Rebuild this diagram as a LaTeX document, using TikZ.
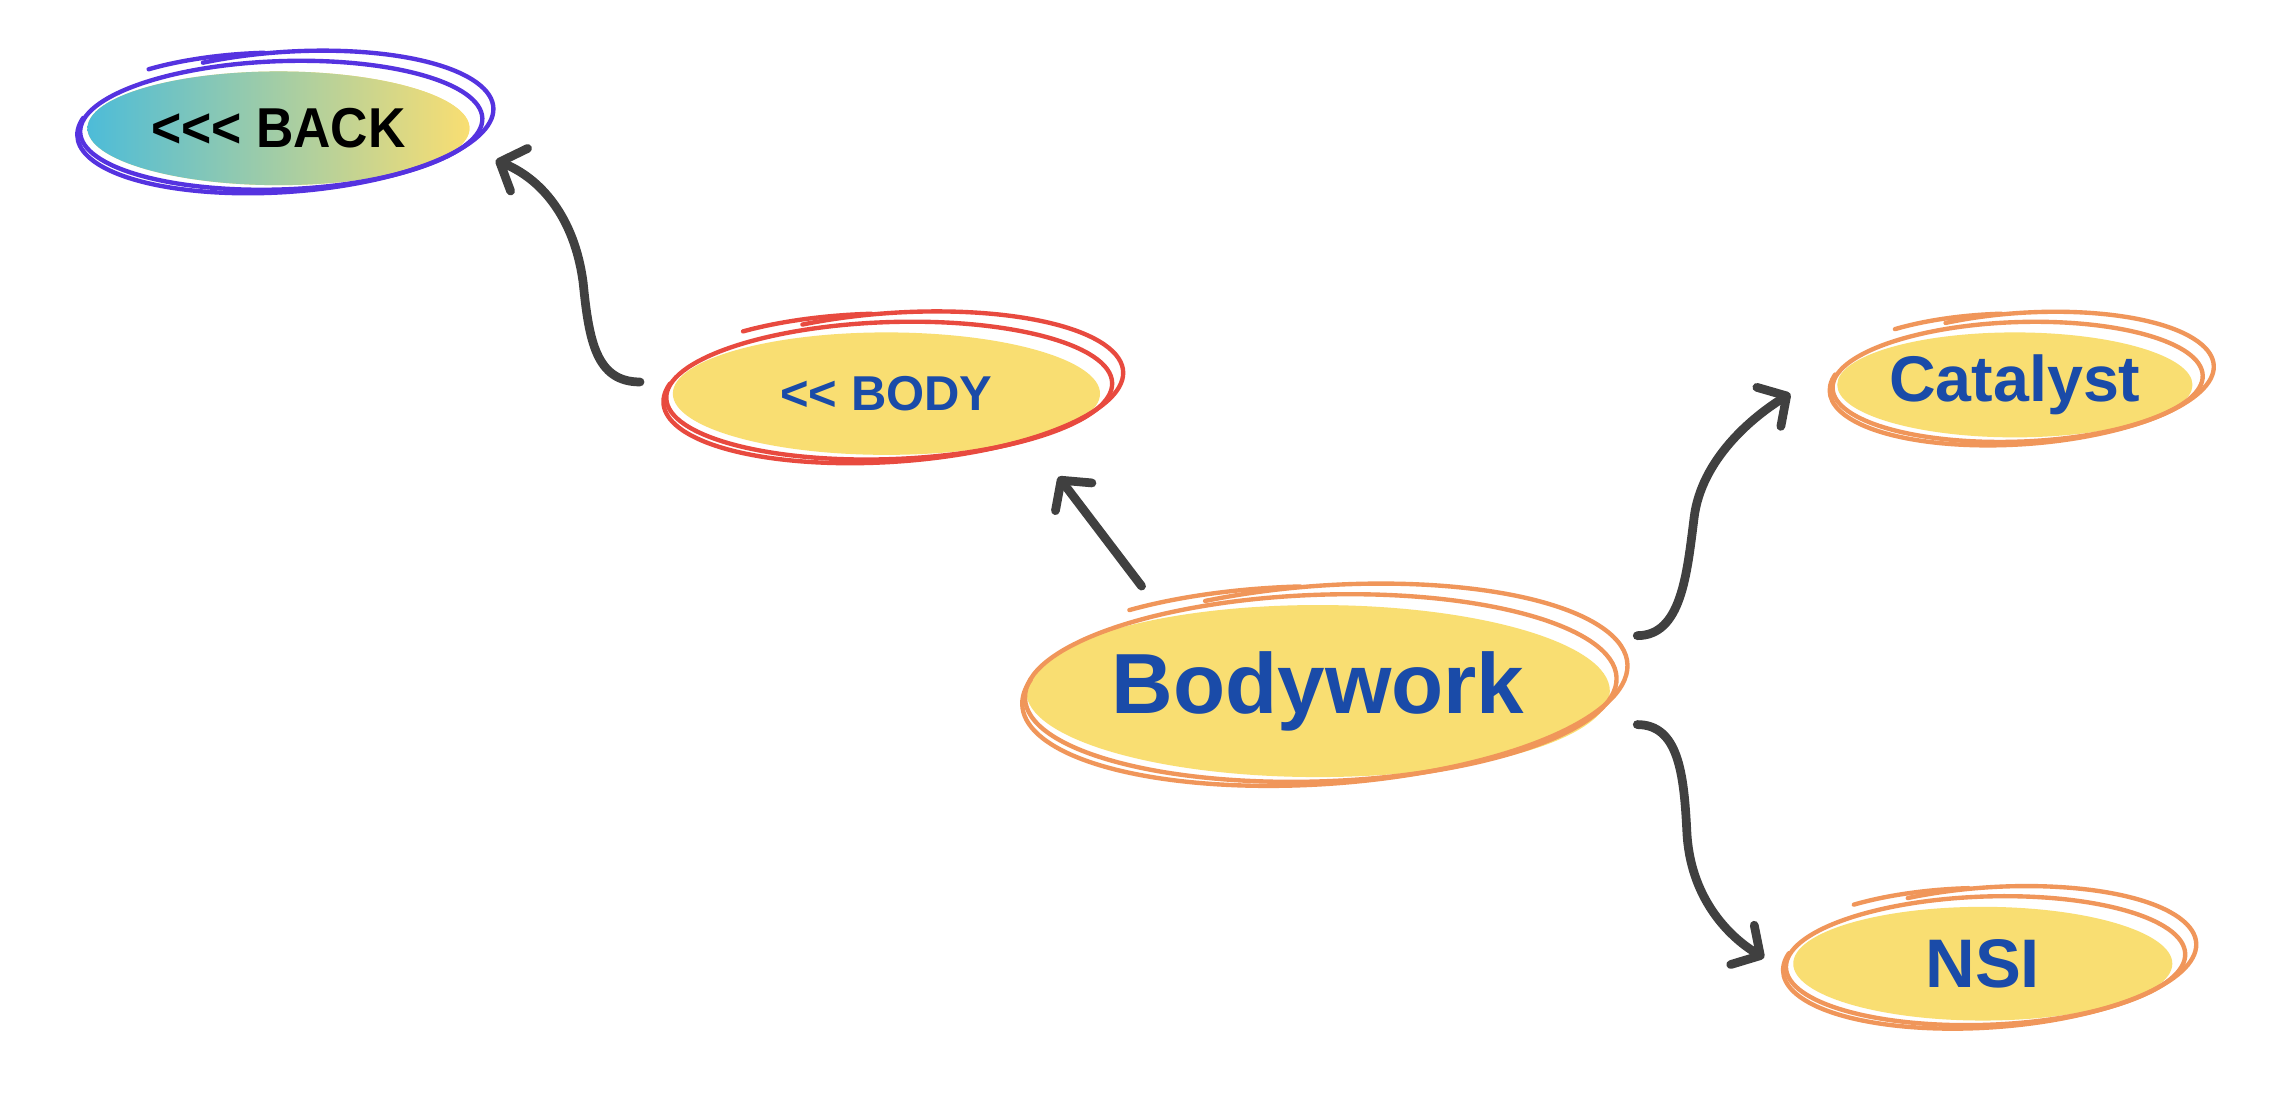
\documentclass[tikz,border=0pt]{standalone}
\usepackage{fontspec}
\setmainfont{Liberation Sans}
\usetikzlibrary{shapes.geometric,arrows.meta,calc}
\definecolor{fillyellow}{HTML}{F9DE72}
\definecolor{textblue}{HTML}{1A4BA8}
\definecolor{ringorange}{HTML}{F0965A}
\definecolor{ringred}{HTML}{E84A3F}
\definecolor{ringpurple}{HTML}{5533E0}
\definecolor{arrowgray}{HTML}{404040}
\definecolor{backcyan}{HTML}{4DBCD8}
\newcommand\sketchring[4]{%
  \begin{scope}[shift={(#1.center)}, line cap=round, line join=round, line width=2.1pt, color=#4]
    \draw[rotate=2, shift={(2,2)}] (0,0) ellipse [x radius={#2+7}, y radius={#3+5}];
    \draw[rotate=4, shift={(5,4)}] (112:{#2+12} and {#3+9}) arc[start angle=112, end angle=-195, x radius={#2+12}, y radius={#3+9}];
    \draw[rotate=1, shift={(-4,5)}] (128:{#2+6} and {#3+8}) arc[start angle=128, end angle=92, x radius={#2+6}, y radius={#3+8}];
  \end{scope}}
\newcommand\lt{<\kern0pt}
\tikzset{
  oval/.style={ellipse, inner sep=0pt, fill=fillyellow, text=textblue, font=\bfseries},
  conn/.style={draw=arrowgray, line width=4.2pt, line cap=round, line join=round,
    -{Straight Barb[length=10pt,width=22pt,round]}},
}
\begin{document}
\begin{tikzpicture}[x=0.7pt,y=0.7pt]
\useasboundingbox[fill=white] (0,0) rectangle (1568,-756);
% nodes
\node[oval, left color=backcyan, right color=fillyellow, text=black,
  minimum width=183.4pt, minimum height=54.6pt] (back) at (191,-88)
  {\fontsize{27}{27}\selectfont\scalebox{0.92}[1]{\lt\lt\lt\ BACK}};
\node[oval, minimum width=205.1pt, minimum height=58.8pt] (body) at (608,-270)
  {\fontsize{23.5}{23.5}\selectfont \lt\lt\ BODY};
\node[oval, minimum width=274.4pt, minimum height=82.6pt] (bodywork) at (904,-474)
  {\fontsize{41}{41}\selectfont Bodywork};
\node[oval, minimum width=168pt, minimum height=50.4pt] (catalyst) at (1382,-264)
  {\fontsize{31}{31}\selectfont Catalyst};
\node[oval, minimum width=182pt, minimum height=54.6pt] (nsi) at (1360,-661)
  {\fontsize{33}{33}\selectfont NSI};
% sketchy outlines
\sketchring{back}{131}{39}{ringpurple}
\sketchring{body}{146}{42}{ringred}
\sketchring{bodywork}{196}{59}{ringorange}
\sketchring{catalyst}{120}{36}{ringorange}
\sketchring{nsi}{130}{39}{ringorange}
% connector end points
\coordinate (t1) at ($(body.center)+(-169,8)$);
\coordinate (h1) at ($(back.center)+(149,-22)$);
\coordinate (m1) at ($(t1)+(-39,68)$);
\coordinate (t2) at ($(bodywork.center)+(-121,72)$);
\coordinate (h2) at ($(body.center)+(118,-57)$);
\coordinate (t3) at ($(bodywork.center)+(219,38)$);
\coordinate (h3) at ($(catalyst.center)+(-154,-6)$);
\coordinate (m3) at ($(t3)+(39,81)$);
\coordinate (t4) at ($(bodywork.center)+(219,-23)$);
\coordinate (h4) at ($(nsi.center)+(-150,4)$);
\coordinate (m4) at ($(t4)+(34,-73)$);
% connectors
\draw[conn] (t1) .. controls +(-30,0) and +(4,-40) .. (m1) .. controls +(-6,46) and +(30,-12) .. (h1);
\draw[conn] (t2) -- (h2);
\draw[conn] (t3) .. controls +(30,0) and +(-5,-40) .. (m3) .. controls +(5,40) and +(-26,-16) .. (h3);
\draw[conn] (t4) .. controls +(28,0) and +(-2,40) .. (m4) .. controls +(2,-45) and +(-25,15) .. (h4);
\end{tikzpicture}
\end{document}
